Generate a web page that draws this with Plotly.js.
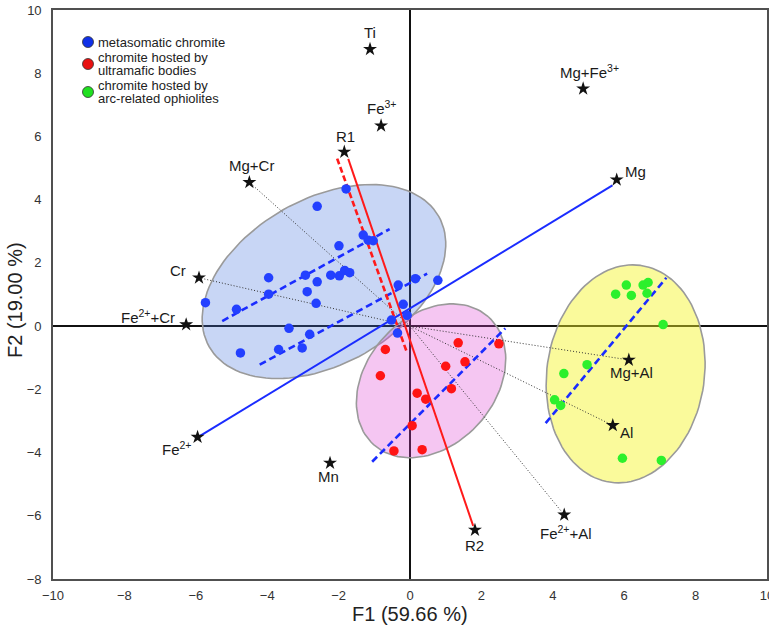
<!DOCTYPE html>
<html>
<head>
<meta charset="utf-8">
<script src="https://cdn.plot.ly/plotly-3.0.1.min.js"></script>
<style>html,body{margin:0;padding:0;background:#fff;}#chart{width:769px;height:631px;}</style>
</head>
<body>
<div id="chart"></div>
<script>
// ---------- data ----------
const blueX = [-1.79,-2.60,-1.31,-1.17,-1.03,-1.99,-1.83,-1.69,-2.22,-1.98,-2.93,-3.96,-2.60,0.15,0.78,-0.33,-2.88,-3.96,-5.73,-4.86,-2.63,-0.19,-0.08,-0.52,-3.39,-2.81,-3.68,-3.02,-4.75,-0.35];
const blueY = [4.34,3.79,2.88,2.72,2.70,2.54,1.76,1.69,1.61,1.59,1.61,1.53,1.40,1.50,1.45,1.30,1.09,1.01,0.74,0.53,0.72,0.69,0.34,0.19,-0.07,-0.26,-0.74,-0.69,-0.85,-0.22];
const redX = [-0.69,-0.83,1.35,2.49,1.54,1.00,1.16,0.20,0.44,0.06,-0.45,0.34];
const redY = [-0.74,-1.57,-0.53,-0.56,-1.13,-1.27,-1.98,-2.12,-2.31,-3.15,-3.95,-3.91];
const greenX = [6.06,6.53,6.67,5.76,6.20,6.64,7.09,4.96,4.31,4.05,4.22,5.95,7.04];
const greenY = [1.30,1.30,1.38,1.01,0.97,1.04,0.05,-1.22,-1.50,-2.33,-2.51,-4.18,-4.25];

const varNames = ['Ti','Mg+Fe<sup>3+</sup>','Fe<sup>3+</sup>','R1','Mg+Cr','Mg','Cr','Fe<sup>2+</sup>+Cr','Mg+Al','Al','Fe<sup>2+</sup>','Mn','Fe<sup>2+</sup>+Al','R2'];
const varX = [-1.12,4.85,-0.81,-1.84,-4.50,5.79,-5.91,-6.27,6.13,5.68,-5.95,-2.24,4.32,1.82];
const varY = [8.76,7.51,6.34,5.51,4.55,4.63,1.53,0.05,-1.07,-3.14,-3.51,-4.33,-5.97,-6.45];

const blueSolidX = [-5.88,5.67], blueSolidY = [-3.47,4.45];
const redSolidX = [-1.73,1.77], redSolidY = [5.29,-6.32];
const redDashX = [-2.04,-0.08], redDashY = [5.30,-0.85];
const dashLinesX = [[-5.26,-0.57],[-4.21,0.48],[-1.06,2.67],[3.80,7.18]];
const dashLinesY = [[0.16,3.07],[-1.22,1.66],[-4.29,-0.07],[-3.07,1.53]];
const dottedTargets = ['Mg+Cr','Cr','Mg+Al','Al','Fe<sup>2+</sup>+Al'];

const legendNames = ['metasomatic chromite','chromite hosted by<br>ultramafic bodies','chromite hosted by<br>arc-related ophiolites'];
const xTitle = 'F1 (59.66 %)', yTitle = 'F2 (19.00 %)';

// ---------- layout constants ----------
const W = 769, H = 631;
const M = {l:53, r:2, t:10, b:52};
const plotW = W - M.l - M.r, plotH = H - M.t - M.b;
const pxPerX = plotW/20, pxPerY = plotH/18;
const FONT = 'Liberation Sans, Arial, Helvetica, sans-serif';

// ellipse specs: center in data, semi-axes in px, angle in deg (screen, ccw)
const ellipses = [
  {cx:-2.41, cy:1.41, a:132, b:82.6, ang:29.6, fill:'rgba(72,118,221,0.30)'},
  {cx:0.59, cy:-1.73, a:85.9, b:64.2, ang:48, fill:'rgba(221,65,211,0.30)'},
  {cx:6.04, cy:-1.51, a:109.5, b:78.8, ang:82, fill:'rgba(244,244,33,0.45)'}
];
const labelOffsets = { // px, screen coords (dx right, dy down)
  'Ti':[0,-17], 'Mg+Fe<sup>3+</sup>':[6,-17], 'Fe<sup>3+</sup>':[1,-18], 'R1':[1,-15], 'Mg+Cr':[2,-17],
  'Mg':[19,-8], 'Cr':[-21,-7], 'Fe<sup>2+</sup>+Cr':[-38,-8], 'Mg+Al':[3,13], 'Al':[14,7],
  'Fe<sup>2+</sup>':[-21,11], 'Mn':[-2,14], 'Fe<sup>2+</sup>+Al':[2,18], 'R2':[0,15]
};

const traces = [];
// ellipses
ellipses.forEach(e => {
  const ex = [], ey = [];
  const th = e.ang*Math.PI/180;
  for (let i=0;i<=120;i++){
    const t = 2*Math.PI*i/120;
    const dx = e.a*Math.cos(t)*Math.cos(th) - e.b*Math.sin(t)*Math.sin(th);
    const dy = e.a*Math.cos(t)*Math.sin(th) + e.b*Math.sin(t)*Math.cos(th);
    ex.push(e.cx + dx/pxPerX); ey.push(e.cy + dy/pxPerY);
  }
  traces.push({x:ex, y:ey, mode:'lines', fill:'toself', fillcolor:e.fill,
    line:{color:'#9a9a9a', width:1.6}, hoverinfo:'skip', showlegend:false});
});
// dotted vectors
dottedTargets.forEach(n => {
  const i = varNames.indexOf(n);
  traces.push({x:[0,varX[i]], y:[0,varY[i]], mode:'lines',
    line:{color:'#333', width:1, dash:'1px,2px'}, hoverinfo:'skip', showlegend:false});
});
// blue dashed
dashLinesX.forEach((lx,k) => {
  traces.push({x:lx, y:dashLinesY[k], mode:'lines',
    line:{color:'#1a2cff', width:2.6, dash:'7px,4px'}, hoverinfo:'skip', showlegend:false});
});
// blue solid
traces.push({x:blueSolidX, y:blueSolidY, mode:'lines', line:{color:'#1a2cff', width:2}, showlegend:false, hoverinfo:'skip'});
// red lines
traces.push({x:redSolidX, y:redSolidY, mode:'lines', line:{color:'#ff1a1a', width:2}, showlegend:false, hoverinfo:'skip'});
traces.push({x:redDashX, y:redDashY, mode:'lines', line:{color:'#ff1a1a', width:2.6, dash:'6px,3px'}, showlegend:false, hoverinfo:'skip'});
// points
traces.push({x:blueX, y:blueY, mode:'markers', name:legendNames[0], marker:{color:'#2340ff', size:9.5}, showlegend:false});
traces.push({x:redX, y:redY, mode:'markers', name:legendNames[1], marker:{color:'#ff1515', size:9.5}, showlegend:false});
traces.push({x:greenX, y:greenY, mode:'markers', name:legendNames[2], marker:{color:'#2cf02c', size:9.5}, showlegend:false});
// stars
traces.push({x:varX, y:varY, mode:'markers', text:varNames, marker:{symbol:'star', color:'#111', size:10.5}, showlegend:false, hoverinfo:'text'});

// annotations
const ann = [];
varNames.forEach((n,i) => {
  const o = labelOffsets[n];
  ann.push({x:varX[i], y:varY[i], xref:'x', yref:'y', text:n, showarrow:false,
    xanchor:'center', yanchor:'middle', xshift:o[0], yshift:-o[1],
    font:{family:FONT, size:15, color:'#1a1a1a'}});
});
const pX = px => (px - M.l)/plotW;
const pY = py => (H - M.b - py)/plotH;
ann.push({x:pX(410), y:pY(614), xref:'paper', yref:'paper', text:xTitle, showarrow:false,
  xanchor:'center', yanchor:'middle', font:{family:FONT, size:20, color:'#222'}});
ann.push({x:pX(15), y:pY(300), xref:'paper', yref:'paper', text:yTitle, showarrow:false, textangle:-90,
  xanchor:'center', yanchor:'middle', font:{family:FONT, size:20, color:'#222'}});

// legend (custom)
const legColors = ['#1030e8','#e81010','#20e020'];
const legCY = [42, 64, 92];
const shapes = [];
legendNames.forEach((nm,k) => {
  shapes.push({type:'circle', xref:'paper', yref:'paper', xsizemode:'pixel', ysizemode:'pixel',
    xanchor:pX(88), yanchor:pY(legCY[k]), x0:-5.5, x1:5.5, y0:-5.5, y1:5.5,
    fillcolor:legColors[k], line:{color:'#333', width:0.8}});
  const lines = nm.split('<br>');
  lines.forEach((ln,j) => {
    const cy = lines.length === 1 ? legCY[k] : legCY[k] - 6.3 + j*12.6;
    ann.push({x:pX(96), y:pY(cy), xref:'paper', yref:'paper', text:ln, showarrow:false,
      xanchor:'left', yanchor:'middle', font:{family:FONT, size:13, color:'#222'}});
  });
});

const axisCommon = {
  showgrid:false, zeroline:true, zerolinecolor:'#111', zerolinewidth:1.5,
  showline:true, mirror:true, linecolor:'#505050', linewidth:1.8,
  ticks:'', ticklabeloverflow:'allow', tickfont:{family:FONT, size:13, color:'#333'},
  automargin:false, fixedrange:true
};
const layout = {
  width:W, height:H, margin:M, paper_bgcolor:'#fff', plot_bgcolor:'#fff',
  showlegend:false,
  xaxis:Object.assign({}, axisCommon, {range:[-10,10], dtick:2, tick0:-10, ticklabelstandoff:4}),
  yaxis:Object.assign({}, axisCommon, {range:[-8,10], dtick:2, tick0:-8, ticklabelstandoff:7}),
  annotations:ann, shapes:shapes, hovermode:false
};
Plotly.newPlot('chart', traces, layout, {displayModeBar:false, staticPlot:true});
</script>
</body>
</html>
